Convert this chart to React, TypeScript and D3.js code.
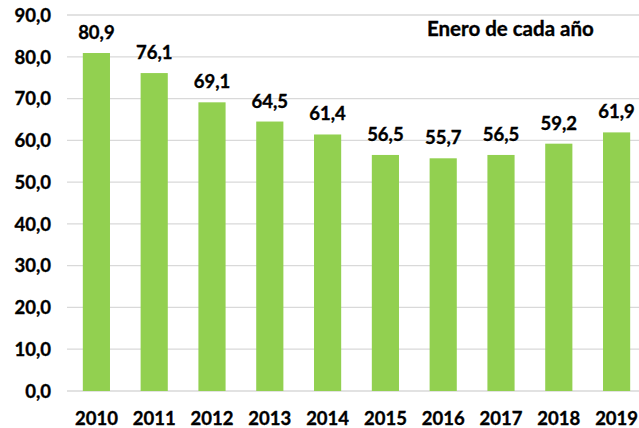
import React from "react";
import * as d3 from "d3";

const years = ["2010","2011","2012","2013","2014","2015","2016","2017","2018","2019"];
const values = [80.9, 76.1, 69.1, 64.5, 61.4, 56.5, 55.7, 56.5, 59.2, 61.9];
const yTicks = [0, 10, 20, 30, 40, 50, 60, 70, 80, 90];
const note = "Enero de cada año";

const W = 639, H = 428;
const fmt = (v: number) => v.toFixed(1).replace(".", ",");

export default function App() {
  const x = d3.scaleBand<string>().domain(years).range([67.5, 645.5]).paddingInner(0.53).paddingOuter(0.265);
  const y = d3.scaleLinear().domain([0, 90]).range([391, 15]);
  const font = "Lato, 'Open Sans', sans-serif";
  const txt = { fontFamily: font, fontWeight: 700, fill: "#000", stroke: "#000", strokeWidth: 0.35 } as const;
  return (
    <svg width={W} height={H} style={{ position: "absolute", left: 0, top: 0 }}>
      <rect width={W} height={H} fill="#fff" />
      {yTicks.map((t) => (
        <g key={t}>
          <line x1={67} x2={639} y1={y(t)} y2={y(t)} stroke="#d9d9d9" strokeWidth={1.3} />
          <text x={51} y={y(t) + 6.8} textAnchor="end" fontSize={18.5} {...txt}>{fmt(t)}</text>
        </g>
      ))}
      {years.map((yr, i) => (
        <g key={yr}>
          <rect x={x(yr)} y={y(values[i])} width={x.bandwidth()} height={y(0) - y(values[i])} fill="#92D050" />
          <text x={x(yr)! + x.bandwidth() / 2} y={y(values[i]) - 14} textAnchor="middle" fontSize={18.5} {...txt}>{fmt(values[i])}</text>
          <text x={x(yr)! + x.bandwidth() / 2} y={425} textAnchor="middle" fontSize={18.5} {...txt}>{yr}</text>
        </g>
      ))}
      <text x={427} y={35.5} fontSize={20.5} {...txt}>{note}</text>
    </svg>
  );
}
